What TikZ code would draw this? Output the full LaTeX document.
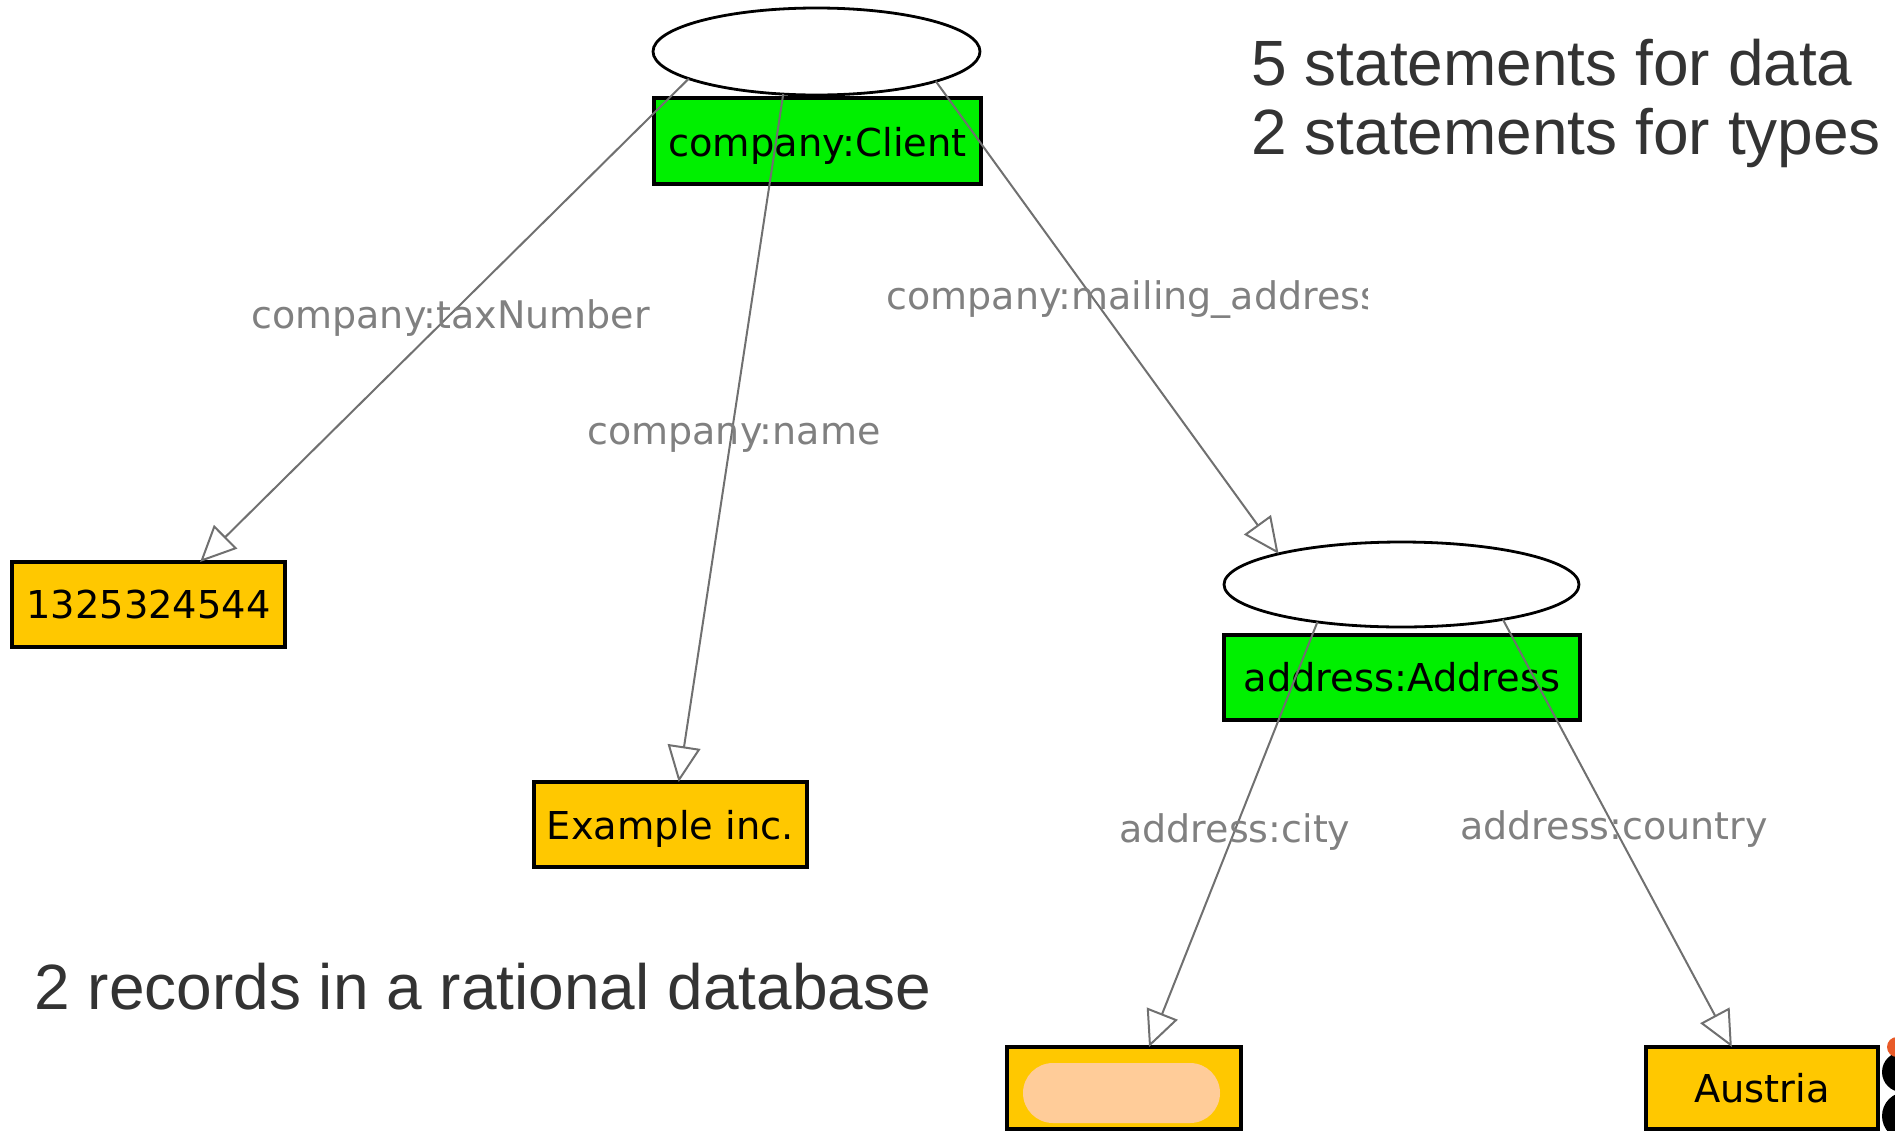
\documentclass[tikz,border=0pt]{standalone}
\usepackage{fontspec}
\setmainfont{Liberation Sans}
\newfontfamily\boxfont{DejaVu Sans}
\usetikzlibrary{arrows.meta,shapes.geometric,calc}
\definecolor{nodegreen}{RGB}{0,240,0}
\definecolor{litgold}{RGB}{255,200,0}
\definecolor{edgegray}{RGB}{112,112,112}
\definecolor{labelgray}{RGB}{128,128,128}
\definecolor{darktext}{RGB}{51,51,51}
\definecolor{peach}{RGB}{255,204,153}
\definecolor{logoorange}{RGB}{232,90,40}
\begin{document}
\begin{tikzpicture}[x=0.5pt,y=-0.5pt,
 resnode/.style={ellipse, draw=black, line width=1.4pt, fill=white, inner sep=0pt, outer sep=0pt},
 typebox/.style={rectangle, draw=black, line width=1.7pt, fill=nodegreen, inner sep=0pt, outer sep=0pt, font=\boxfont\fontsize{19.2}{22}\selectfont},
 litbox/.style={rectangle, draw=black, line width=1.7pt, fill=litgold, inner sep=0pt, outer sep=0pt, minimum height=42.5pt, font=\boxfont\fontsize{19.2}{22}\selectfont},
 prop/.style={draw=edgegray, line width=1pt, -{Triangle[open,length=18pt,width=16.5pt]}},
 proplabel/.style={text=labelgray, font=\boxfont\fontsize{19}{22}\selectfont, inner sep=0pt, anchor=west},
 bigtext/.style={text=darktext, font=\fontsize{32}{38}\selectfont, inner sep=0pt, anchor=base west}]
\useasboundingbox (0,0) rectangle (1895,1130);
\clip (0,0) rectangle (1895,1130);

% nodes
\node[resnode, minimum width=163.5pt, minimum height=43.5pt] (client) at (816.5,51.5) {};
\node[typebox, minimum width=163.5pt, minimum height=43pt, text height=17pt, text depth=2pt] (clienttype) at (817.5,141) {company:Client};
\node[resnode, minimum width=177.5pt, minimum height=42.5pt] (addr) at (1401.5,584.5) {};
\node[typebox, minimum width=178pt, minimum height=42.5pt] (addrtype) at (1402,677.5) {address:Address};
\node[litbox, minimum width=136.5pt] (tax) at (148.5,604.5) {1325324544};
\node[litbox, minimum width=136.5pt, text height=16.5pt, text depth=2pt] (name) at (670.5,824.5) {Example inc.};
\node[litbox, minimum width=117pt, minimum height=41pt] (city) at (1124,1088) {};
\node[fill=peach, rounded corners=15pt, minimum width=98.5pt, minimum height=30pt, inner sep=0pt] (cityname) at (1121.5,1093) {};
\node[litbox, minimum width=116pt, minimum height=41pt] (country) at (1762,1088) {Austria};

% edges
\draw[prop] (client.192.7) -- ($(tax.north west)!0.689!(tax.north east)$);
\draw[prop] (client.232.5) -- ($(name.north west)!0.53!(name.north east)$);
\draw[prop] (client.346.3) -- (addr.166.9);
\draw[prop] (addr.204.5) -- ($(city.north west)!0.607!(city.north east)$);
\draw[prop] (addr.341.7) -- ($(country.north west)!0.37!(country.north east)$);

% edge labels
\node[proplabel] (lbltax) at (251,318) {company:taxNumber};
\node[proplabel] (lblname) at (587,438) {company:name};
\begin{scope}
\clip (880,255) rectangle (1367,345);
\node[proplabel] (lblmail) at (886,300) {company:mailing\_address};
\end{scope}
\node[proplabel] (lblcity) at (1119,832) {address:city};
\node[proplabel] (lblcountry) at (1460,829) {address:country};

% annotations
\node[bigtext] (stmt1) at (1251,85) {5 statements for data};
\node[bigtext] (stmt2) at (1251,154) {2 statements for types};
\node[bigtext] (records) at (34,1009) {2 records in a rational database};

% logo fragments at right edge
\fill[black] (1902,1072) circle (10pt);
\fill[black] (1906,1116) circle (12pt);
\fill[logoorange] (1897,1047) circle (5pt);
\end{tikzpicture}
\end{document}
